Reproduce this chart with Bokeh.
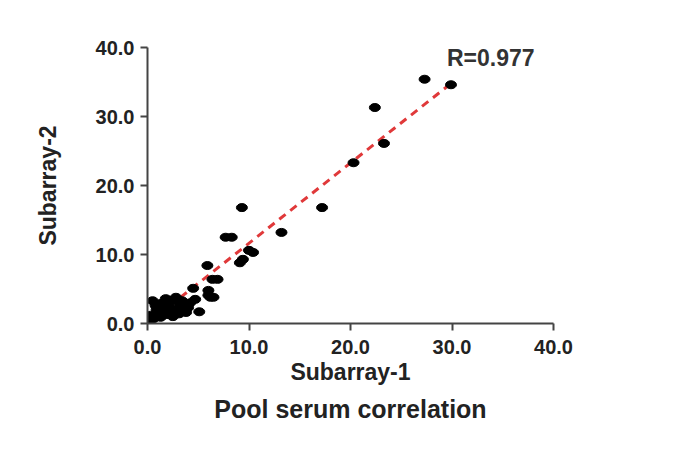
from bokeh.plotting import figure
from bokeh.models import FixedTicker, NumeralTickFormatter, Range1d, Label, Title
from bokeh.embed import file_html
from bokeh.resources import INLINE

# Data
sub1 = [27.3, 29.9, 22.4, 23.3, 20.3, 17.2, 13.2, 9.3, 7.7, 8.3,
        10.4, 10.0, 9.4, 9.1, 5.9, 6.4, 6.9, 6.0, 6.0, 6.2, 6.5,
        4.5, 4.7, 5.1, 4.2, 3.8,
        0.5, 0.8, 1.3, 1.8, 2.3, 2.8, 3.1, 3.5, 4.0, 0.3, 0.6, 1.0,
        1.5, 1.9, 2.3, 2.7, 3.1, 1.3, 2.1, 3.4, 0.9, 0.2, 2.5, 3.8]
sub2 = [35.4, 34.6, 31.3, 26.1, 23.3, 16.8, 13.2, 16.8, 12.5, 12.5,
        10.3, 10.6, 9.3, 8.8, 8.4, 6.4, 6.4, 4.8, 4.1, 3.8, 3.8,
        5.1, 3.5, 1.7, 3.0, 2.3,
        3.3, 2.6, 2.9, 3.6, 3.3, 3.8, 3.0, 2.3, 2.3, 1.2, 0.7, 1.6,
        1.9, 1.3, 1.7, 2.0, 1.4, 0.9, 2.5, 3.3, 2.0, 0.3, 1.0, 1.6]
fit_x = [0.0, 30.0]
fit_y = [0.0, 34.9]
ticks = [0, 10, 20, 30, 40]
r_text = "R=0.977"

FONT = "Liberation Sans"

p = figure(width=659, height=435, output_backend="svg", toolbar_location=None,
           x_range=Range1d(0, 40), y_range=Range1d(0, 40),
           frame_width=406, frame_height=276,
           min_border_left=147, min_border_top=47, min_border_right=106,
           min_border_bottom=10)
p.outline_line_color = None
p.grid.visible = False
p.background_fill_color = "white"
p.border_fill_color = "white"

p.line(fit_x, fit_y, line_color="#e0393a", line_width=3, line_dash="8 6")
p.ellipse(x=sub1, y=sub2, width=11, height=8, width_units="screen",
          height_units="screen", fill_color="black", line_color="black")

for ax in (p.xaxis[0], p.yaxis[0]):
    ax.ticker = FixedTicker(ticks=ticks)
    ax.formatter = NumeralTickFormatter(format="0.0")
    ax.minor_tick_line_color = None
    ax.major_tick_out = 7
    ax.major_tick_in = 0
    ax.axis_line_width = 2
    ax.axis_line_color = "#444444"
    ax.major_tick_line_width = 2
    ax.major_tick_line_color = "#444444"
    ax.major_label_text_font = FONT
    ax.major_label_text_font_style = "bold"
    ax.major_label_text_font_size = "20px"
    ax.major_label_text_color = "#222222"
    ax.axis_label_text_font = FONT
    ax.axis_label_text_font_style = "bold"
    ax.axis_label_text_font_size = "23px"
    ax.axis_label_text_color = "#222222"

p.xaxis.axis_label = "Subarray-1"
p.yaxis.axis_label = "Subarray-2"
p.xaxis.major_label_standoff = 9
p.xaxis.axis_label_standoff = 2
p.yaxis.major_label_standoff = 6
p.yaxis.axis_label_standoff = 32

p.add_layout(Title(text="Pool serum correlation", text_font=FONT,
                   text_font_style="bold", text_font_size="25px",
                   text_color="#222222", align="center", standoff=11), "below")

p.add_layout(Label(x=29.5, y=36.6, text=r_text, text_font=FONT,
                   text_font_style="bold", text_font_size="23px",
                   text_color="#333333"))

open("out.html", "w").write(file_html(p, INLINE))
